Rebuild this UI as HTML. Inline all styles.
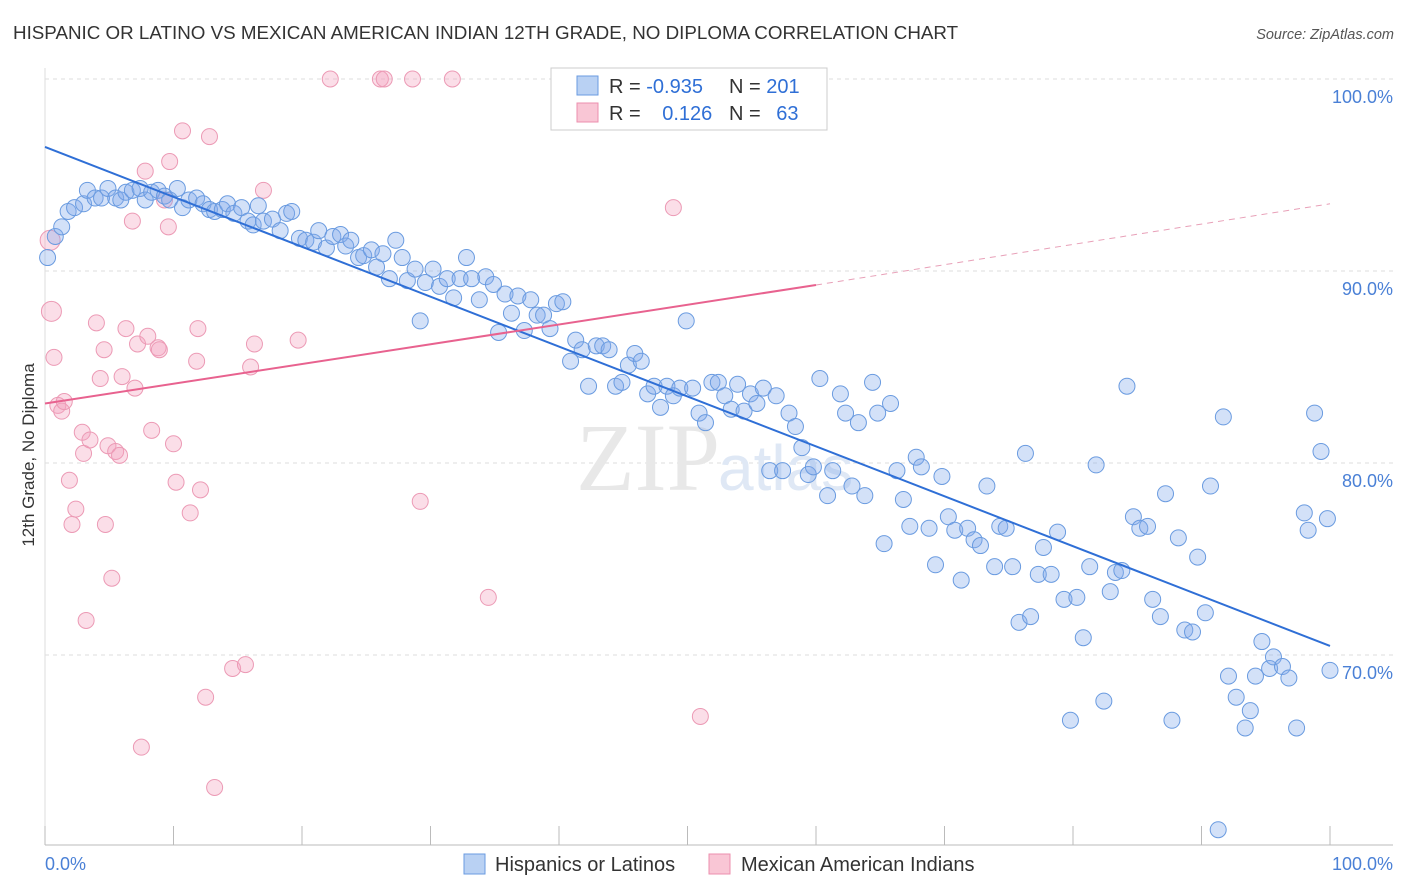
<!DOCTYPE html>
<html><head><meta charset="utf-8"><style>
body{margin:0;background:#fff;font-family:"Liberation Sans",sans-serif;}
svg{display:block}
</style></head><body>
<svg id="chart" width="1406" height="892">
<text x="13" y="39" font-size="18.8" fill="#333">HISPANIC OR LATINO VS MEXICAN AMERICAN INDIAN 12TH GRADE, NO DIPLOMA CORRELATION CHART</text>
<text x="1394" y="39" font-size="14.5" fill="#555" font-style="italic" text-anchor="end">Source: ZipAtlas.com</text>
<text transform="translate(34,455) rotate(-90)" font-size="17" fill="#333" text-anchor="middle">12th Grade, No Diploma</text>
<g id="grid"></g>
<text x="720" y="490" font-size="96" fill="#e8e8e8" text-anchor="end" font-family="Liberation Serif">ZIP</text>
<text x="718" y="490" font-size="64" fill="#dfe8f5">atlas</text>
<g id="pts"></g>
<g id="lines"></g>
<g>
<rect x="551" y="68" width="276" height="62" fill="#fff" stroke="#ccc"/>
<rect x="577" y="76" width="21" height="19" fill="#b9d1f3" stroke="#6a9be0"/>
<rect x="577" y="103" width="21" height="19" fill="#f9c6d5" stroke="#ec8fae"/>
<text x="609" y="93" font-size="20" fill="#333">R = <tspan fill="#2f6fd6">-0.935</tspan></text>
<text x="729" y="93" font-size="20" fill="#333">N = <tspan fill="#2f6fd6">201</tspan></text>
<text x="609" y="120" font-size="20" fill="#333">R = <tspan fill="#2f6fd6" dx="16">0.126</tspan></text>
<text x="729" y="120" font-size="20" fill="#333">N = <tspan fill="#2f6fd6" dx="10">63</tspan></text>
</g>
<g>
<rect x="464" y="854" width="21" height="20" fill="#b9d1f3" stroke="#6a9be0"/>
<text x="495" y="871" font-size="20" fill="#333">Hispanics or Latinos</text>
<rect x="709" y="854" width="21" height="20" fill="#f9c6d5" stroke="#ec8fae"/>
<text x="741" y="871" font-size="20" fill="#333">Mexican American Indians</text>
</g>
</svg>
<script>
const yTicks=[100,90,80,70];
const yTickLabels=["100.0%","90.0%","80.0%","70.0%"];
const xTicks=[0,10,20,30,40,50,60,70,80,90,100];
const xTickLabels=["0.0%","100.0%"];
const blueX=[0.2,0.8,1.3,1.8,2.3,3.0,3.3,3.9,4.4,4.9,5.5,5.9,6.3,6.8,7.4,7.8,8.3,8.8,9.3,9.7,10.3,10.7,11.2,11.8,12.3,12.8,13.2,13.8,14.2,14.7,15.3,15.8,16.2,16.6,17.0,17.7,18.3,18.8,19.2,19.8,20.3,20.9,21.3,21.9,22.4,23.0,23.4,23.8,24.4,24.8,25.4,25.8,26.3,26.8,27.3,27.8,28.2,28.8,29.2,29.6,30.2,30.7,31.3,31.8,32.3,32.8,33.2,33.8,34.3,34.9,35.3,35.8,36.3,36.8,37.3,37.8,38.3,38.8,39.3,39.8,40.3,40.9,41.3,41.8,42.3,42.9,43.4,43.9,44.4,44.9,45.4,45.9,46.4,46.9,47.4,47.9,48.4,48.9,49.4,49.9,50.4,50.9,51.4,51.9,52.4,52.9,53.4,53.9,54.4,54.9,55.4,55.9,56.4,56.9,57.4,57.9,58.4,58.9,59.4,59.8,60.3,60.9,61.3,61.9,62.3,62.8,63.3,63.8,64.4,64.8,65.3,65.8,66.3,66.8,67.3,67.8,68.2,68.8,69.3,69.8,70.3,70.8,71.3,71.8,72.3,72.8,73.3,73.9,74.3,74.8,75.3,75.8,76.3,76.7,77.3,77.7,78.3,78.8,79.3,79.8,80.3,80.8,81.3,81.8,82.4,82.9,83.3,83.8,84.2,84.7,85.2,85.8,86.2,86.8,87.2,87.7,88.2,88.7,89.3,89.7,90.3,90.7,91.3,91.7,92.1,92.7,93.4,93.8,94.2,94.7,95.3,95.6,96.3,96.8,97.4,98.0,98.3,98.8,99.3,99.8,100];
const blueY=[90.7,91.8,92.3,93.1,93.3,93.5,94.2,93.8,93.8,94.3,93.8,93.7,94.1,94.2,94.3,93.7,94.1,94.2,93.9,93.7,94.3,93.3,93.7,93.8,93.5,93.2,93.1,93.2,93.5,93.0,93.3,92.6,92.4,93.4,92.6,92.7,92.1,93.0,93.1,91.7,91.6,91.5,92.1,91.2,91.8,91.9,91.3,91.6,90.7,90.8,91.1,90.2,90.9,89.6,91.6,90.7,89.5,90.1,87.4,89.4,90.1,89.2,89.6,88.6,89.6,90.7,89.6,88.5,89.7,89.3,86.8,88.8,87.8,88.7,86.9,88.5,87.7,87.7,87.0,88.3,88.4,85.3,86.4,85.9,84.0,86.1,86.1,85.9,84.0,84.2,85.1,85.7,85.3,83.6,84.0,82.9,84.0,83.5,83.9,87.4,83.9,82.6,82.1,84.2,84.2,83.5,82.8,84.1,82.7,83.6,83.1,83.9,79.6,83.5,79.6,82.6,81.9,80.8,79.4,79.8,84.4,78.3,79.6,83.6,82.6,78.8,82.1,78.3,84.2,82.6,75.8,83.1,79.6,78.1,76.7,80.3,79.8,76.6,74.7,79.3,77.2,76.5,73.9,76.6,76.0,75.7,78.8,74.6,76.7,76.6,74.6,71.7,80.5,72.0,74.2,75.6,74.2,76.4,72.9,66.6,73.0,70.9,74.6,79.9,67.6,73.3,74.3,74.4,84.0,77.2,76.6,76.7,72.9,72.0,78.4,66.6,76.1,71.3,71.2,75.1,72.2,78.8,60.9,82.4,68.9,67.8,66.2,67.1,68.9,70.7,69.3,69.9,69.4,68.8,66.2,77.4,76.5,82.6,80.6,77.1,69.2];
const pinkX=[0.4,0.5,0.7,1.0,1.3,1.5,1.9,2.1,2.4,2.9,3.0,3.2,3.5,4.0,4.3,4.6,4.7,4.9,5.2,5.5,5.8,6.0,6.3,6.8,7.0,7.2,7.5,7.8,8.0,8.3,8.8,8.9,9.3,9.6,9.7,10.0,10.2,10.7,11.3,11.8,11.9,12.1,12.5,12.8,13.2,14.6,15.6,16.0,16.3,17.0,19.7,22.2,26.1,26.4,28.6,29.2,31.7,34.5,48.9,51.0];
const pinkY=[91.6,87.9,85.5,83.0,82.7,83.2,79.1,76.8,77.6,81.6,80.5,71.8,81.2,87.3,84.4,85.9,76.8,80.9,74.0,80.6,80.4,84.5,87.0,92.6,83.9,86.2,65.2,95.2,86.6,81.7,86.0,85.9,93.7,92.3,95.7,81.0,79.0,97.3,77.4,85.3,87.0,78.6,67.8,97.0,63.1,69.3,69.5,85.0,86.2,94.2,86.4,100,100,100,100,78.0,100,73.0,93.3,66.8];
const blueTrend=[96.46,70.47];
const pinkTrend=[83.1,89.27,93.5];
const pinkSolidEnd=60;

const X0=45,X1=1330,Ytop=79,pxPer=19.2;
const sx=v=>X0+(X1-X0)*v/100;
const sy=v=>Ytop+(100-v)*pxPer;
const NS="http://www.w3.org/2000/svg";
function mk(tag,attrs,parent){const e=document.createElementNS(NS,tag);for(const k in attrs)e.setAttribute(k,attrs[k]);parent.appendChild(e);return e;}
const grid=document.getElementById('grid');
yTicks.forEach((t,i)=>{
 const l=mk('line',{x1:45,x2:1393,y1:sy(t),y2:sy(t),stroke:'#ddd','stroke-dasharray':'4,4'},grid);
 
 
 const tx=mk('text',{x:1393,y:sy(t)+24,'font-size':18,fill:'#4a80d6','text-anchor':'end'},grid);
 tx.textContent=yTickLabels[i];
 
 
});
const ax=mk('line',{x1:45,x2:1393,y1:845,y2:845,stroke:'#bbb'},grid);


const ay=mk('line',{x1:45,x2:45,y1:68,y2:845,stroke:'#ddd'},grid);


xTicks.forEach(t=>{
 const l=mk('line',{x1:sx(t),x2:sx(t),y1:826,y2:845,stroke:'#bbb'},grid);
 
 
});
const xl0=mk('text',{x:45,y:870,'font-size':18,fill:'#4a80d6'},grid);xl0.textContent=xTickLabels[0];


const xl1=mk('text',{x:1393,y:870,'font-size':18,fill:'#4a80d6','text-anchor':'end'},grid);xl1.textContent=xTickLabels[1];


const pts=document.getElementById('pts');
pinkX.forEach((x,i)=>{
 const r=i<2?10:8;
 const c=mk('circle',{cx:sx(x),cy:sy(pinkY[i]),r:r,fill:'rgba(244,160,188,0.35)',stroke:'#ec9ab5','stroke-width':1},pts);
 
 
});
blueX.forEach((x,i)=>{
 const c=mk('circle',{cx:sx(x),cy:sy(blueY[i]),r:8,fill:'rgba(130,170,235,0.35)',stroke:'#6a9be0','stroke-width':1},pts);
 
 
});
const lines=document.getElementById('lines');
const bl=mk('line',{x1:sx(0),y1:sy(blueTrend[0]),x2:sx(100),y2:sy(blueTrend[1]),stroke:'#2f6fd6','stroke-width':2},lines);


const pl=mk('line',{x1:sx(0),y1:sy(pinkTrend[0]),x2:sx(pinkSolidEnd),y2:sy(pinkTrend[1]),stroke:'#e8628f','stroke-width':2},lines);


const pd=mk('line',{x1:sx(pinkSolidEnd),y1:sy(pinkTrend[1]),x2:sx(100),y2:sy(pinkTrend[2]),stroke:'#e8a0b8','stroke-width':1,'stroke-dasharray':'6,5'},lines);


</script>
</body></html>
